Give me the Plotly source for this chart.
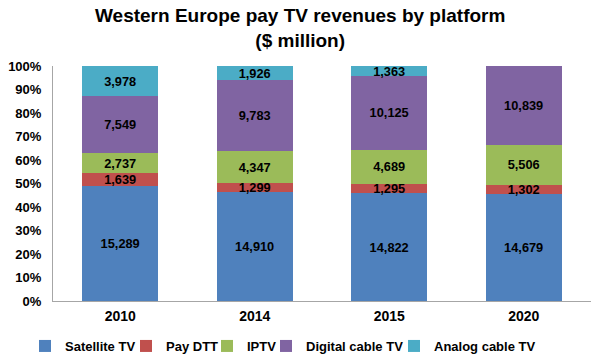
import plotly.graph_objects as go

years = ["2010", "2014", "2015", "2020"]
series_names = ["Satellite TV", "Pay DTT", "IPTV", "Digital cable TV", "Analog cable TV"]
satellite = [15289, 14910, 14822, 14679]
pay_dtt = [1639, 1299, 1295, 1302]
iptv = [2737, 4347, 4689, 5506]
digital_cable = [7549, 9783, 10125, 10839]
analog_cable = [3978, 1926, 1363, 0]
colors = ["#4F81BD", "#C0504D", "#9BBB59", "#8064A2", "#4BACC6"]

FONT = "Liberation Sans, Arial, sans-serif"
W, H = 600, 360
# left pixel of each legend entry's text in the reference
legend_text_x = [65, 166, 247, 306, 434]
legend_ids = ["legend2", "legend3", "legend4", "legend5", "legend6"]

fig = go.Figure()
for i, (name, vals, col) in enumerate(zip(series_names, [satellite, pay_dtt, iptv, digital_cable, analog_cable], colors)):
    fig.add_trace(go.Bar(
        x=years, y=vals, name=name, marker=dict(color=col, line=dict(width=0)),
        text=[f"<b>{v:,}</b>" if v else "" for v in vals],
        textposition="inside", insidetextanchor="middle",
        textfont=dict(color="black", size=14, family=FONT),
        hoverinfo="skip", legend=legend_ids[i], showlegend=True,
    ))

fig.add_annotation(
    text="<b>Western Europe pay TV revenues by platform<br>($ million)</b>",
    xref="paper", yref="paper", x=(300 - 53) / 538, y=1 + 38 / 235, xanchor="center", yanchor="middle",
    showarrow=False, font=dict(size=19, family=FONT, color="black"),
)

legend_common = dict(orientation="h", xref="container", yref="container", xanchor="left",
                     yanchor="middle", y=1 - 346 / H, bgcolor="rgba(0,0,0,0)",
                     font=dict(size=13, family=FONT, weight="bold", color="black"),
                     itemwidth=30)
legend_layout = {}
for lid, tx in zip(legend_ids, legend_text_x):
    legend_layout[lid] = dict(legend_common, x=(tx - 40) / W)

fig.update_layout(
    barmode="stack", barnorm="percent", bargap=0.435,
    width=W, height=H, showlegend=True,
    margin=dict(l=53, r=9, t=66, b=59, autoexpand=False),
    paper_bgcolor="white", plot_bgcolor="white",
    font=dict(family=FONT, size=12, color="black"),
    uniformtext=dict(minsize=12, mode="show"),
    xaxis=dict(showline=True, linecolor="#A6A6A6", linewidth=1, ticks="",
               ticklabelstandoff=2,
               tickfont=dict(size=14, family=FONT, weight="bold")),
    yaxis=dict(range=[0, 100], dtick=10, ticksuffix="%", showgrid=False,
               showline=True, linecolor="#A6A6A6", linewidth=1, ticks="",
               ticklabelstandoff=8,
               tickfont=dict(size=13, family=FONT, weight="bold"), zeroline=False),
    **legend_layout,
)
fig.write_html("out.html", config={"displayModeBar": False},
               post_script="document.body.style.margin='0';")
